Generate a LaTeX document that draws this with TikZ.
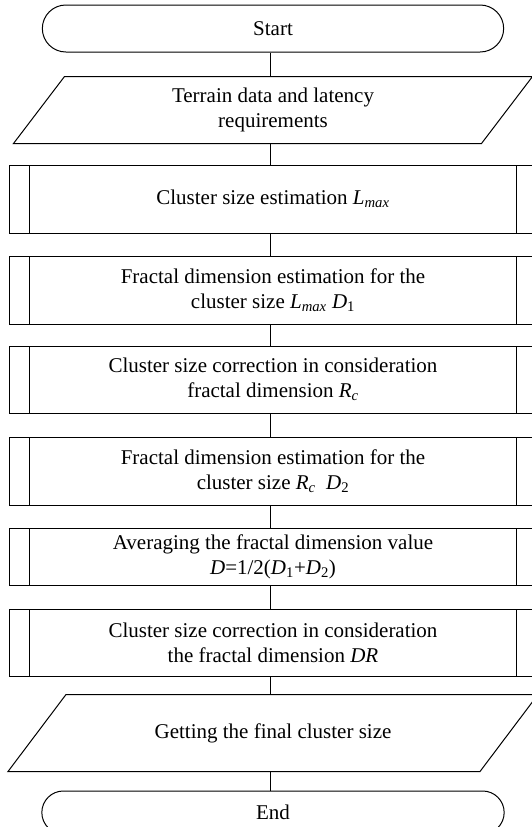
\documentclass[tikz,border=0pt]{standalone}
\usepackage{fontspec}
\setmainfont{Liberation Serif}
\usetikzlibrary{positioning,shapes.misc}
\newcommand{\sub}[1]{\textsubscript{#1}}
\tikzset{
  every node/.style={font=\fontsize{21}{25}\selectfont, align=center, line width=1pt},
  term/.style={draw, rounded rectangle, minimum width=468pt, minimum height=47pt},
  iobox/.style={rectangle, minimum width=467pt, minimum height=66pt},
  subproc/.style={draw, rectangle, minimum width=527pt, minimum height=68pt,
    path picture={\draw[line width=1pt]
      ([xshift=20pt]path picture bounding box.north west) -- ([xshift=20pt]path picture bounding box.south west)
      ([xshift=-20pt]path picture bounding box.north east) -- ([xshift=-20pt]path picture bounding box.south east);}},
  flow/.style={line width=1pt}
}
\begin{document}
\begin{tikzpicture}[x=1pt,y=-1pt]
  \useasboundingbox (0,0) rectangle (531,827);
  \node[term] (start) at (273,28.5) {Start};
  \node[iobox, below=24pt of start] (input) {Terrain data and latency\\requirements};
  \node[subproc, below=21pt of input] (lmax) {Cluster size estimation \textit{L}\sub{\textit{max}}};
  \node[subproc, below=22pt of lmax] (dimone) {Fractal dimension estimation for the\\cluster size \textit{L}\sub{\textit{max}} \textit{D}\sub{1}};
  \node[subproc, below=21pt of dimone, minimum height=67pt] (rc) {Cluster size correction in consideration\\fractal dimension \textit{R}\sub{\textit{c}}};
  \node[subproc, below=23pt of rc] (dimtwo) {Fractal dimension estimation for the\\cluster size \textit{R}\sub{\textit{c}}\ \ \textit{D}\sub{2}};
  \node[subproc, below=22pt of dimtwo, minimum height=57pt] (avg) {Averaging the fractal dimension value\\\textit{D}=1/2(\textit{D}\sub{1}+\textit{D}\sub{2})};
  \node[subproc, below=23pt of avg, minimum height=67pt] (dr) {Cluster size correction in consideration\\the fractal dimension \textit{DR}};
  \node[iobox, below=18pt of dr, minimum height=76pt, minimum width=471pt] (final) {Getting the final cluster size};
  \node[term, below=19pt of final, minimum height=43pt, minimum width=469pt] (end) {End};
  \foreach \n/\s in {input/25.5pt, final/29pt}
    \draw[flow] ([xshift=\s]\n.north west) -- ([xshift=\s]\n.north east)
      -- ([xshift=-\s]\n.south east) -- ([xshift=-\s]\n.south west) -- cycle;
  \foreach \a/\b in {start/input, input/lmax, lmax/dimone, dimone/rc, rc/dimtwo, dimtwo/avg, avg/dr, dr/final, final/end}
    \draw[flow] ([xshift=-3pt]\a.south) -- ([xshift=-3pt]\b.north);
\end{tikzpicture}
\end{document}
